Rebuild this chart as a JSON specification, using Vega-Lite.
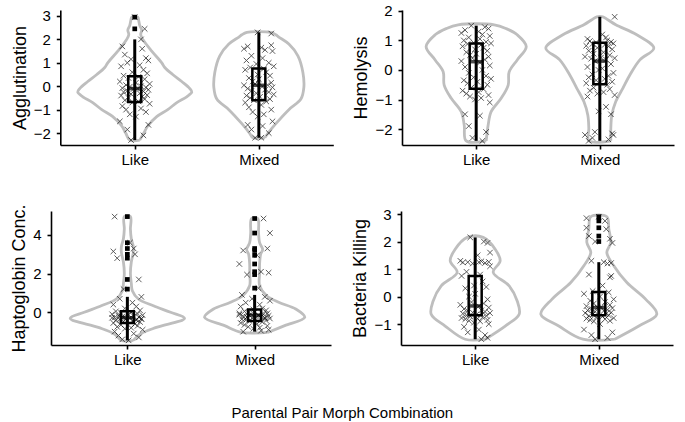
{
"$schema":"https://vega.github.io/schema/vega-lite/v6.json",
"padding":{"left":10,"top":3,"right":5,"bottom":5},
"background":"white",
"config":{"view":{"stroke":null},"font":"Liberation Sans",
"axis":{"grid":false,"labelOverlap":false,"domainColor":"black","domainWidth":1.6,"tickColor":"black","tickWidth":1.6,"tickSize":4,"labelColor":"black","labelFont":"Liberation Sans","labelFontSize":15,"titleFont":"Liberation Sans","titleFontSize":18,"titleFontWeight":"normal","titleColor":"black"},
"axisX":{"labelAngle":0,"labelPadding":3},
"axisY":{"titlePadding":4,"labelPadding":6}},
"title":{"text":"Parental Pair Morph Combination","orient":"bottom","fontSize":15,"fontWeight":"normal","font":"Liberation Sans","color":"black","offset":39,"anchor":"middle"},
"datasets":{
"box":[
{"p":"A","g":"Like","lo":-2.3,"q1":-0.67,"md":-0.1,"q3":0.43,"hi":2.0},
{"p":"A","g":"Mixed","lo":-2.2,"q1":-0.6,"md":0.04,"q3":0.76,"hi":2.3},
{"p":"B","g":"Like","lo":-2.4,"q1":-0.64,"md":0.28,"q3":0.9,"hi":1.5},
{"p":"B","g":"Mixed","lo":-2.4,"q1":-0.48,"md":0.3,"q3":0.92,"hi":1.8},
{"p":"C","g":"Like","lo":-1.45,"q1":-0.55,"md":-0.28,"q3":0.05,"hi":0.8},
{"p":"C","g":"Mixed","lo":-1.0,"q1":-0.45,"md":-0.15,"q3":0.15,"hi":0.9},
{"p":"D","g":"Like","lo":-1.55,"q1":-0.68,"md":-0.34,"q3":0.75,"hi":2.15},
{"p":"D","g":"Mixed","lo":-1.55,"q1":-0.68,"md":-0.4,"q3":0.17,"hi":1.25}],
"out":[
{"p":"A","g":"Like","v":2.45},{"p":"A","g":"Like","v":2.95},
{"p":"C","g":"Like","v":4.95},{"p":"C","g":"Like","v":3.6},{"p":"C","g":"Like","v":3.3},{"p":"C","g":"Like","v":3.0},{"p":"C","g":"Like","v":2.8},{"p":"C","g":"Like","v":1.7},{"p":"C","g":"Like","v":1.2},
{"p":"C","g":"Mixed","v":4.85},{"p":"C","g":"Mixed","v":4.1},{"p":"C","g":"Mixed","v":3.3},{"p":"C","g":"Mixed","v":3.2},{"p":"C","g":"Mixed","v":2.95},{"p":"C","g":"Mixed","v":2.5},{"p":"C","g":"Mixed","v":2.1},{"p":"C","g":"Mixed","v":1.95},{"p":"C","g":"Mixed","v":1.25},
{"p":"D","g":"Mixed","v":2.9},{"p":"D","g":"Mixed","v":2.75},{"p":"D","g":"Mixed","v":2.5},{"p":"D","g":"Mixed","v":2.2},{"p":"D","g":"Mixed","v":2.0}],
"vio":[
{"p":"A","g":"Like","v":-2.3,"w":0.04},{"p":"A","g":"Like","v":-2.0,"w":0.073},{"p":"A","g":"Like","v":-1.7,"w":0.105},{"p":"A","g":"Like","v":-1.3,"w":0.177},{"p":"A","g":"Like","v":-1.0,"w":0.266},{"p":"A","g":"Like","v":-0.7,"w":0.339},{"p":"A","g":"Like","v":-0.45,"w":0.419},{"p":"A","g":"Like","v":-0.25,"w":0.46},{"p":"A","g":"Like","v":-0.1,"w":0.444},{"p":"A","g":"Like","v":0.2,"w":0.379},{"p":"A","g":"Like","v":0.5,"w":0.306},{"p":"A","g":"Like","v":0.8,"w":0.242},{"p":"A","g":"Like","v":1.0,"w":0.218},{"p":"A","g":"Like","v":1.5,"w":0.137},{"p":"A","g":"Like","v":2.0,"w":0.065},{"p":"A","g":"Like","v":2.2,"w":0.048},{"p":"A","g":"Like","v":2.4,"w":0.056},{"p":"A","g":"Like","v":2.6,"w":0.04},{"p":"A","g":"Like","v":2.8,"w":0.032},{"p":"A","g":"Like","v":2.95,"w":0.024},
{"p":"A","g":"Like","v":2.95,"w":-0.024},{"p":"A","g":"Like","v":2.8,"w":-0.032},{"p":"A","g":"Like","v":2.6,"w":-0.04},{"p":"A","g":"Like","v":2.4,"w":-0.056},{"p":"A","g":"Like","v":2.2,"w":-0.048},{"p":"A","g":"Like","v":2.0,"w":-0.065},{"p":"A","g":"Like","v":1.5,"w":-0.137},{"p":"A","g":"Like","v":1.0,"w":-0.218},{"p":"A","g":"Like","v":0.8,"w":-0.242},{"p":"A","g":"Like","v":0.5,"w":-0.306},{"p":"A","g":"Like","v":0.2,"w":-0.379},{"p":"A","g":"Like","v":-0.1,"w":-0.444},{"p":"A","g":"Like","v":-0.25,"w":-0.46},{"p":"A","g":"Like","v":-0.45,"w":-0.419},{"p":"A","g":"Like","v":-0.7,"w":-0.339},{"p":"A","g":"Like","v":-1.0,"w":-0.266},{"p":"A","g":"Like","v":-1.3,"w":-0.177},{"p":"A","g":"Like","v":-1.7,"w":-0.105},{"p":"A","g":"Like","v":-2.0,"w":-0.073},{"p":"A","g":"Like","v":-2.3,"w":-0.04},{"p":"A","g":"Like","v":-2.3,"w":0.04},
{"p":"A","g":"Mixed","v":-2.2,"w":0.048},{"p":"A","g":"Mixed","v":-2.0,"w":0.075},{"p":"A","g":"Mixed","v":-1.6,"w":0.137},{"p":"A","g":"Mixed","v":-1.0,"w":0.242},{"p":"A","g":"Mixed","v":-0.55,"w":0.339},{"p":"A","g":"Mixed","v":-0.05,"w":0.363},{"p":"A","g":"Mixed","v":0.6,"w":0.355},{"p":"A","g":"Mixed","v":1.3,"w":0.315},{"p":"A","g":"Mixed","v":1.8,"w":0.242},{"p":"A","g":"Mixed","v":2.1,"w":0.161},{"p":"A","g":"Mixed","v":2.2,"w":0.137},{"p":"A","g":"Mixed","v":2.3,"w":0.097},
{"p":"A","g":"Mixed","v":2.3,"w":-0.097},{"p":"A","g":"Mixed","v":2.2,"w":-0.137},{"p":"A","g":"Mixed","v":2.1,"w":-0.161},{"p":"A","g":"Mixed","v":1.8,"w":-0.242},{"p":"A","g":"Mixed","v":1.3,"w":-0.315},{"p":"A","g":"Mixed","v":0.6,"w":-0.355},{"p":"A","g":"Mixed","v":-0.05,"w":-0.363},{"p":"A","g":"Mixed","v":-0.55,"w":-0.339},{"p":"A","g":"Mixed","v":-1.0,"w":-0.242},{"p":"A","g":"Mixed","v":-1.6,"w":-0.137},{"p":"A","g":"Mixed","v":-2.0,"w":-0.075},{"p":"A","g":"Mixed","v":-2.2,"w":-0.048},{"p":"A","g":"Mixed","v":-2.2,"w":0.048},
{"p":"B","g":"Like","v":-2.4,"w":0.081},{"p":"B","g":"Like","v":-1.86,"w":0.097},{"p":"B","g":"Like","v":-1.41,"w":0.121},{"p":"B","g":"Like","v":-0.96,"w":0.202},{"p":"B","g":"Like","v":-0.51,"w":0.259},{"p":"B","g":"Like","v":-0.06,"w":0.267},{"p":"B","g":"Like","v":0.34,"w":0.332},{"p":"B","g":"Like","v":0.79,"w":0.405},{"p":"B","g":"Like","v":1.19,"w":0.332},{"p":"B","g":"Like","v":1.4,"w":0.243},{"p":"B","g":"Like","v":1.53,"w":0.146},
{"p":"B","g":"Like","v":1.53,"w":-0.146},{"p":"B","g":"Like","v":1.4,"w":-0.243},{"p":"B","g":"Like","v":1.19,"w":-0.332},{"p":"B","g":"Like","v":0.79,"w":-0.405},{"p":"B","g":"Like","v":0.34,"w":-0.332},{"p":"B","g":"Like","v":-0.06,"w":-0.267},{"p":"B","g":"Like","v":-0.51,"w":-0.259},{"p":"B","g":"Like","v":-0.96,"w":-0.202},{"p":"B","g":"Like","v":-1.41,"w":-0.121},{"p":"B","g":"Like","v":-1.86,"w":-0.097},{"p":"B","g":"Like","v":-2.4,"w":-0.081},{"p":"B","g":"Like","v":-2.4,"w":0.081},
{"p":"B","g":"Mixed","v":-2.4,"w":0.089},{"p":"B","g":"Mixed","v":-1.98,"w":0.089},{"p":"B","g":"Mixed","v":-1.53,"w":0.097},{"p":"B","g":"Mixed","v":-1.07,"w":0.129},{"p":"B","g":"Mixed","v":-0.62,"w":0.186},{"p":"B","g":"Mixed","v":-0.17,"w":0.243},{"p":"B","g":"Mixed","v":0.34,"w":0.324},{"p":"B","g":"Mixed","v":0.74,"w":0.437},{"p":"B","g":"Mixed","v":1.19,"w":0.299},{"p":"B","g":"Mixed","v":1.53,"w":0.129},{"p":"B","g":"Mixed","v":1.7,"w":0.065},{"p":"B","g":"Mixed","v":1.8,"w":0.024},
{"p":"B","g":"Mixed","v":1.8,"w":-0.024},{"p":"B","g":"Mixed","v":1.7,"w":-0.065},{"p":"B","g":"Mixed","v":1.53,"w":-0.129},{"p":"B","g":"Mixed","v":1.19,"w":-0.299},{"p":"B","g":"Mixed","v":0.74,"w":-0.437},{"p":"B","g":"Mixed","v":0.34,"w":-0.324},{"p":"B","g":"Mixed","v":-0.17,"w":-0.243},{"p":"B","g":"Mixed","v":-0.62,"w":-0.186},{"p":"B","g":"Mixed","v":-1.07,"w":-0.129},{"p":"B","g":"Mixed","v":-1.53,"w":-0.097},{"p":"B","g":"Mixed","v":-1.98,"w":-0.089},{"p":"B","g":"Mixed","v":-2.4,"w":-0.089},{"p":"B","g":"Mixed","v":-2.4,"w":0.089},
{"p":"C","g":"Like","v":-1.45,"w":0.047},{"p":"C","g":"Like","v":-1.12,"w":0.102},{"p":"C","g":"Like","v":-0.78,"w":0.228},{"p":"C","g":"Like","v":-0.31,"w":0.449},{"p":"C","g":"Like","v":0.0,"w":0.339},{"p":"C","g":"Like","v":0.34,"w":0.205},{"p":"C","g":"Like","v":0.69,"w":0.087},{"p":"C","g":"Like","v":1.12,"w":0.039},{"p":"C","g":"Like","v":1.5,"w":0.031},{"p":"C","g":"Like","v":2.0,"w":0.024},{"p":"C","g":"Like","v":2.6,"w":0.031},{"p":"C","g":"Like","v":3.1,"w":0.047},{"p":"C","g":"Like","v":3.4,"w":0.047},{"p":"C","g":"Like","v":3.8,"w":0.031},{"p":"C","g":"Like","v":4.3,"w":0.024},{"p":"C","g":"Like","v":4.95,"w":0.024},
{"p":"C","g":"Like","v":4.95,"w":-0.024},{"p":"C","g":"Like","v":4.3,"w":-0.024},{"p":"C","g":"Like","v":3.8,"w":-0.031},{"p":"C","g":"Like","v":3.4,"w":-0.047},{"p":"C","g":"Like","v":3.1,"w":-0.047},{"p":"C","g":"Like","v":2.6,"w":-0.031},{"p":"C","g":"Like","v":2.0,"w":-0.024},{"p":"C","g":"Like","v":1.5,"w":-0.031},{"p":"C","g":"Like","v":1.12,"w":-0.039},{"p":"C","g":"Like","v":0.69,"w":-0.087},{"p":"C","g":"Like","v":0.34,"w":-0.205},{"p":"C","g":"Like","v":0.0,"w":-0.339},{"p":"C","g":"Like","v":-0.31,"w":-0.449},{"p":"C","g":"Like","v":-0.78,"w":-0.228},{"p":"C","g":"Like","v":-1.12,"w":-0.102},{"p":"C","g":"Like","v":-1.45,"w":-0.047},{"p":"C","g":"Like","v":-1.45,"w":0.047},
{"p":"C","g":"Mixed","v":-1.04,"w":0.102},{"p":"C","g":"Mixed","v":-0.69,"w":0.236},{"p":"C","g":"Mixed","v":-0.26,"w":0.394},{"p":"C","g":"Mixed","v":0.17,"w":0.323},{"p":"C","g":"Mixed","v":0.52,"w":0.189},{"p":"C","g":"Mixed","v":0.86,"w":0.094},{"p":"C","g":"Mixed","v":1.38,"w":0.039},{"p":"C","g":"Mixed","v":2.0,"w":0.039},{"p":"C","g":"Mixed","v":2.5,"w":0.039},{"p":"C","g":"Mixed","v":3.0,"w":0.047},{"p":"C","g":"Mixed","v":3.25,"w":0.063},{"p":"C","g":"Mixed","v":3.6,"w":0.039},{"p":"C","g":"Mixed","v":4.1,"w":0.031},{"p":"C","g":"Mixed","v":4.85,"w":0.024},
{"p":"C","g":"Mixed","v":4.85,"w":-0.024},{"p":"C","g":"Mixed","v":4.1,"w":-0.031},{"p":"C","g":"Mixed","v":3.6,"w":-0.039},{"p":"C","g":"Mixed","v":3.25,"w":-0.063},{"p":"C","g":"Mixed","v":3.0,"w":-0.047},{"p":"C","g":"Mixed","v":2.5,"w":-0.039},{"p":"C","g":"Mixed","v":2.0,"w":-0.039},{"p":"C","g":"Mixed","v":1.38,"w":-0.039},{"p":"C","g":"Mixed","v":0.86,"w":-0.094},{"p":"C","g":"Mixed","v":0.52,"w":-0.189},{"p":"C","g":"Mixed","v":0.17,"w":-0.323},{"p":"C","g":"Mixed","v":-0.26,"w":-0.394},{"p":"C","g":"Mixed","v":-0.69,"w":-0.236},{"p":"C","g":"Mixed","v":-1.04,"w":-0.102},{"p":"C","g":"Mixed","v":-1.04,"w":0.102},
{"p":"D","g":"Like","v":-1.55,"w":0.081},{"p":"D","g":"Like","v":-1.07,"w":0.243},{"p":"D","g":"Like","v":-0.64,"w":0.356},{"p":"D","g":"Like","v":-0.16,"w":0.34},{"p":"D","g":"Like","v":0.39,"w":0.275},{"p":"D","g":"Like","v":0.88,"w":0.146},{"p":"D","g":"Like","v":1.3,"w":0.202},{"p":"D","g":"Like","v":1.72,"w":0.162},{"p":"D","g":"Like","v":2.15,"w":0.065},
{"p":"D","g":"Like","v":2.15,"w":-0.065},{"p":"D","g":"Like","v":1.72,"w":-0.162},{"p":"D","g":"Like","v":1.3,"w":-0.202},{"p":"D","g":"Like","v":0.88,"w":-0.146},{"p":"D","g":"Like","v":0.39,"w":-0.275},{"p":"D","g":"Like","v":-0.16,"w":-0.34},{"p":"D","g":"Like","v":-0.64,"w":-0.356},{"p":"D","g":"Like","v":-1.07,"w":-0.243},{"p":"D","g":"Like","v":-1.55,"w":-0.081},{"p":"D","g":"Like","v":-1.55,"w":0.081},
{"p":"D","g":"Mixed","v":-1.55,"w":0.129},{"p":"D","g":"Mixed","v":-1.07,"w":0.324},{"p":"D","g":"Mixed","v":-0.64,"w":0.469},{"p":"D","g":"Mixed","v":-0.1,"w":0.38},{"p":"D","g":"Mixed","v":0.51,"w":0.227},{"p":"D","g":"Mixed","v":1.12,"w":0.121},{"p":"D","g":"Mixed","v":1.6,"w":0.065},{"p":"D","g":"Mixed","v":1.97,"w":0.097},{"p":"D","g":"Mixed","v":2.45,"w":0.081},{"p":"D","g":"Mixed","v":2.9,"w":0.065},
{"p":"D","g":"Mixed","v":2.9,"w":-0.065},{"p":"D","g":"Mixed","v":2.45,"w":-0.081},{"p":"D","g":"Mixed","v":1.97,"w":-0.097},{"p":"D","g":"Mixed","v":1.6,"w":-0.065},{"p":"D","g":"Mixed","v":1.12,"w":-0.121},{"p":"D","g":"Mixed","v":0.51,"w":-0.227},{"p":"D","g":"Mixed","v":-0.1,"w":-0.38},{"p":"D","g":"Mixed","v":-0.64,"w":-0.469},{"p":"D","g":"Mixed","v":-1.07,"w":-0.324},{"p":"D","g":"Mixed","v":-1.55,"w":-0.129},{"p":"D","g":"Mixed","v":-1.55,"w":0.129}],
"pts":[
{"p":"A","g":"Like","v":2.95,"j":0.0},{"p":"A","g":"Like","v":2.45,"j":0.08},{"p":"A","g":"Like","v":2.0,"j":0.05},{"p":"A","g":"Like","v":1.7,"j":-0.1},{"p":"A","g":"Like","v":1.6,"j":0.06},{"p":"A","g":"Like","v":1.35,"j":-0.08},{"p":"A","g":"Like","v":1.2,"j":0.09},{"p":"A","g":"Like","v":1.15,"j":-0.03},{"p":"A","g":"Like","v":1.1,"j":0.11},{"p":"A","g":"Like","v":1.0,"j":-0.06},
{"p":"A","g":"Like","v":0.9,"j":0.04},{"p":"A","g":"Like","v":0.85,"j":-0.11},{"p":"A","g":"Like","v":0.7,"j":0.07},{"p":"A","g":"Like","v":0.6,"j":-0.02},{"p":"A","g":"Like","v":0.55,"j":0.1},{"p":"A","g":"Like","v":0.45,"j":-0.09},{"p":"A","g":"Like","v":0.4,"j":0.03},{"p":"A","g":"Like","v":0.35,"j":-0.05},{"p":"A","g":"Like","v":0.3,"j":0.08},{"p":"A","g":"Like","v":0.2,"j":-0.12},
{"p":"A","g":"Like","v":0.15,"j":0.01},{"p":"A","g":"Like","v":0.1,"j":0.12},{"p":"A","g":"Like","v":0.05,"j":-0.07},{"p":"A","g":"Like","v":0.0,"j":0.05},{"p":"A","g":"Like","v":-0.02,"j":-0.04},{"p":"A","g":"Like","v":-0.05,"j":0.09},{"p":"A","g":"Like","v":-0.08,"j":-0.1},{"p":"A","g":"Like","v":-0.1,"j":0.02},{"p":"A","g":"Like","v":-0.12,"j":-0.01},{"p":"A","g":"Like","v":-0.15,"j":0.11},
{"p":"A","g":"Like","v":-0.2,"j":-0.06},{"p":"A","g":"Like","v":-0.22,"j":0.07},{"p":"A","g":"Like","v":-0.25,"j":-0.09},{"p":"A","g":"Like","v":-0.3,"j":0.04},{"p":"A","g":"Like","v":-0.33,"j":-0.03},{"p":"A","g":"Like","v":-0.38,"j":0.1},{"p":"A","g":"Like","v":-0.4,"j":-0.11},{"p":"A","g":"Like","v":-0.45,"j":0.06},{"p":"A","g":"Like","v":-0.5,"j":-0.05},{"p":"A","g":"Like","v":-0.55,"j":0.08},
{"p":"A","g":"Like","v":-0.6,"j":-0.08},{"p":"A","g":"Like","v":-0.65,"j":0.03},{"p":"A","g":"Like","v":-0.7,"j":-0.02},{"p":"A","g":"Like","v":-0.75,"j":0.12},{"p":"A","g":"Like","v":-0.85,"j":-0.1},{"p":"A","g":"Like","v":-0.95,"j":0.05},{"p":"A","g":"Like","v":-1.0,"j":-0.07},{"p":"A","g":"Like","v":-1.1,"j":0.09},{"p":"A","g":"Like","v":-1.2,"j":-0.04},{"p":"A","g":"Like","v":-1.3,"j":0.01},
{"p":"A","g":"Like","v":-1.5,"j":-0.12},{"p":"A","g":"Like","v":-1.65,"j":0.11},{"p":"A","g":"Like","v":-1.85,"j":-0.06},{"p":"A","g":"Like","v":-2.1,"j":0.07},{"p":"A","g":"Like","v":-2.3,"j":-0.03},
{"p":"A","g":"Mixed","v":2.3,"j":-0.01},{"p":"A","g":"Mixed","v":2.25,"j":0.1},{"p":"A","g":"Mixed","v":1.75,"j":0.1},{"p":"A","g":"Mixed","v":1.7,"j":-0.09},{"p":"A","g":"Mixed","v":1.65,"j":0.02},{"p":"A","g":"Mixed","v":1.6,"j":-0.12},{"p":"A","g":"Mixed","v":1.55,"j":0.05},{"p":"A","g":"Mixed","v":1.5,"j":0.11},{"p":"A","g":"Mixed","v":1.3,"j":-0.06},{"p":"A","g":"Mixed","v":1.2,"j":0.03},
{"p":"A","g":"Mixed","v":1.1,"j":-0.1},{"p":"A","g":"Mixed","v":1.0,"j":0.08},{"p":"A","g":"Mixed","v":0.95,"j":-0.02},{"p":"A","g":"Mixed","v":0.85,"j":0.12},{"p":"A","g":"Mixed","v":0.8,"j":-0.07},{"p":"A","g":"Mixed","v":0.75,"j":0.04},{"p":"A","g":"Mixed","v":0.7,"j":-0.11},{"p":"A","g":"Mixed","v":0.6,"j":0.06},{"p":"A","g":"Mixed","v":0.5,"j":-0.01},{"p":"A","g":"Mixed","v":0.45,"j":0.09},
{"p":"A","g":"Mixed","v":0.35,"j":-0.08},{"p":"A","g":"Mixed","v":0.3,"j":0.0},{"p":"A","g":"Mixed","v":0.2,"j":-0.05},{"p":"A","g":"Mixed","v":0.15,"j":0.1},{"p":"A","g":"Mixed","v":0.1,"j":-0.03},{"p":"A","g":"Mixed","v":0.05,"j":0.07},{"p":"A","g":"Mixed","v":0.04,"j":-0.12},{"p":"A","g":"Mixed","v":0.0,"j":0.03},{"p":"A","g":"Mixed","v":-0.05,"j":0.11},{"p":"A","g":"Mixed","v":-0.1,"j":-0.09},
{"p":"A","g":"Mixed","v":-0.15,"j":0.05},{"p":"A","g":"Mixed","v":-0.2,"j":-0.06},{"p":"A","g":"Mixed","v":-0.25,"j":0.08},{"p":"A","g":"Mixed","v":-0.3,"j":-0.02},{"p":"A","g":"Mixed","v":-0.35,"j":0.12},{"p":"A","g":"Mixed","v":-0.4,"j":-0.1},{"p":"A","g":"Mixed","v":-0.45,"j":0.01},{"p":"A","g":"Mixed","v":-0.5,"j":-0.07},{"p":"A","g":"Mixed","v":-0.55,"j":0.09},{"p":"A","g":"Mixed","v":-0.6,"j":-0.04},
{"p":"A","g":"Mixed","v":-0.65,"j":0.06},{"p":"A","g":"Mixed","v":-0.7,"j":-0.11},{"p":"A","g":"Mixed","v":-0.8,"j":0.02},{"p":"A","g":"Mixed","v":-0.9,"j":-0.08},{"p":"A","g":"Mixed","v":-1.0,"j":0.1},{"p":"A","g":"Mixed","v":-1.1,"j":-0.05},{"p":"A","g":"Mixed","v":-1.2,"j":0.04},{"p":"A","g":"Mixed","v":-1.3,"j":-0.01},{"p":"A","g":"Mixed","v":-1.5,"j":0.11},{"p":"A","g":"Mixed","v":-1.65,"j":-0.09},
{"p":"A","g":"Mixed","v":-1.7,"j":0.03},{"p":"A","g":"Mixed","v":-1.85,"j":-0.06},{"p":"A","g":"Mixed","v":-2.0,"j":0.08},{"p":"A","g":"Mixed","v":-2.2,"j":-0.03},{"p":"A","g":"Mixed","v":-2.2,"j":0.02},
{"p":"B","g":"Like","v":1.5,"j":-0.04},{"p":"B","g":"Like","v":1.45,"j":0.07},{"p":"B","g":"Like","v":1.4,"j":0.1},{"p":"B","g":"Like","v":1.35,"j":-0.09},{"p":"B","g":"Like","v":1.3,"j":0.02},{"p":"B","g":"Like","v":1.25,"j":-0.12},{"p":"B","g":"Like","v":1.2,"j":0.05},{"p":"B","g":"Like","v":1.15,"j":0.11},{"p":"B","g":"Like","v":1.1,"j":-0.06},{"p":"B","g":"Like","v":1.05,"j":0.03},
{"p":"B","g":"Like","v":1.0,"j":-0.1},{"p":"B","g":"Like","v":0.95,"j":0.08},{"p":"B","g":"Like","v":0.92,"j":-0.02},{"p":"B","g":"Like","v":0.9,"j":0.12},{"p":"B","g":"Like","v":0.88,"j":-0.07},{"p":"B","g":"Like","v":0.85,"j":0.04},{"p":"B","g":"Like","v":0.8,"j":-0.11},{"p":"B","g":"Like","v":0.75,"j":0.06},{"p":"B","g":"Like","v":0.7,"j":-0.01},{"p":"B","g":"Like","v":0.65,"j":0.09},
{"p":"B","g":"Like","v":0.6,"j":-0.08},{"p":"B","g":"Like","v":0.55,"j":0.0},{"p":"B","g":"Like","v":0.5,"j":-0.05},{"p":"B","g":"Like","v":0.45,"j":0.1},{"p":"B","g":"Like","v":0.4,"j":-0.03},{"p":"B","g":"Like","v":0.35,"j":0.07},{"p":"B","g":"Like","v":0.3,"j":-0.12},{"p":"B","g":"Like","v":0.25,"j":0.03},{"p":"B","g":"Like","v":0.15,"j":0.11},{"p":"B","g":"Like","v":0.1,"j":-0.09},
{"p":"B","g":"Like","v":0.0,"j":0.05},{"p":"B","g":"Like","v":-0.1,"j":-0.06},{"p":"B","g":"Like","v":-0.2,"j":0.08},{"p":"B","g":"Like","v":-0.25,"j":-0.02},{"p":"B","g":"Like","v":-0.3,"j":0.12},{"p":"B","g":"Like","v":-0.35,"j":-0.1},{"p":"B","g":"Like","v":-0.4,"j":0.01},{"p":"B","g":"Like","v":-0.45,"j":-0.07},{"p":"B","g":"Like","v":-0.5,"j":0.09},{"p":"B","g":"Like","v":-0.6,"j":-0.04},
{"p":"B","g":"Like","v":-0.65,"j":0.06},{"p":"B","g":"Like","v":-0.7,"j":-0.11},{"p":"B","g":"Like","v":-0.75,"j":0.02},{"p":"B","g":"Like","v":-0.8,"j":-0.08},{"p":"B","g":"Like","v":-0.85,"j":0.1},{"p":"B","g":"Like","v":-0.9,"j":-0.05},{"p":"B","g":"Like","v":-0.95,"j":0.04},{"p":"B","g":"Like","v":-1.0,"j":-0.01},{"p":"B","g":"Like","v":-1.1,"j":0.11},{"p":"B","g":"Like","v":-1.5,"j":-0.09},
{"p":"B","g":"Like","v":-1.55,"j":0.03},{"p":"B","g":"Like","v":-1.9,"j":-0.06},{"p":"B","g":"Like","v":-2.1,"j":0.08},{"p":"B","g":"Like","v":-2.3,"j":-0.03},{"p":"B","g":"Like","v":-2.4,"j":0.05},
{"p":"B","g":"Mixed","v":1.8,"j":0.12},{"p":"B","g":"Mixed","v":1.2,"j":0.02},{"p":"B","g":"Mixed","v":1.1,"j":0.05},{"p":"B","g":"Mixed","v":1.05,"j":-0.1},{"p":"B","g":"Mixed","v":1.0,"j":0.06},{"p":"B","g":"Mixed","v":0.98,"j":-0.08},{"p":"B","g":"Mixed","v":0.95,"j":0.09},{"p":"B","g":"Mixed","v":0.93,"j":-0.03},{"p":"B","g":"Mixed","v":0.9,"j":0.11},{"p":"B","g":"Mixed","v":0.88,"j":-0.06},
{"p":"B","g":"Mixed","v":0.85,"j":0.04},{"p":"B","g":"Mixed","v":0.82,"j":-0.11},{"p":"B","g":"Mixed","v":0.8,"j":0.07},{"p":"B","g":"Mixed","v":0.75,"j":-0.02},{"p":"B","g":"Mixed","v":0.7,"j":0.1},{"p":"B","g":"Mixed","v":0.65,"j":-0.09},{"p":"B","g":"Mixed","v":0.6,"j":0.03},{"p":"B","g":"Mixed","v":0.55,"j":-0.05},{"p":"B","g":"Mixed","v":0.5,"j":0.08},{"p":"B","g":"Mixed","v":0.45,"j":-0.12},
{"p":"B","g":"Mixed","v":0.42,"j":0.01},{"p":"B","g":"Mixed","v":0.4,"j":0.12},{"p":"B","g":"Mixed","v":0.38,"j":-0.07},{"p":"B","g":"Mixed","v":0.35,"j":0.05},{"p":"B","g":"Mixed","v":0.3,"j":-0.04},{"p":"B","g":"Mixed","v":0.2,"j":0.09},{"p":"B","g":"Mixed","v":0.1,"j":-0.1},{"p":"B","g":"Mixed","v":0.05,"j":0.02},{"p":"B","g":"Mixed","v":0.0,"j":-0.01},{"p":"B","g":"Mixed","v":-0.1,"j":0.11},
{"p":"B","g":"Mixed","v":-0.15,"j":-0.06},{"p":"B","g":"Mixed","v":-0.2,"j":0.07},{"p":"B","g":"Mixed","v":-0.25,"j":-0.09},{"p":"B","g":"Mixed","v":-0.3,"j":0.04},{"p":"B","g":"Mixed","v":-0.35,"j":-0.03},{"p":"B","g":"Mixed","v":-0.4,"j":0.1},{"p":"B","g":"Mixed","v":-0.45,"j":-0.11},{"p":"B","g":"Mixed","v":-0.5,"j":0.06},{"p":"B","g":"Mixed","v":-0.6,"j":-0.05},{"p":"B","g":"Mixed","v":-0.65,"j":0.08},
{"p":"B","g":"Mixed","v":-0.7,"j":-0.08},{"p":"B","g":"Mixed","v":-0.75,"j":0.03},{"p":"B","g":"Mixed","v":-0.8,"j":-0.02},{"p":"B","g":"Mixed","v":-0.85,"j":0.12},{"p":"B","g":"Mixed","v":-0.9,"j":-0.1},{"p":"B","g":"Mixed","v":-1.25,"j":0.05},{"p":"B","g":"Mixed","v":-1.4,"j":-0.01},{"p":"B","g":"Mixed","v":-1.5,"j":0.09},{"p":"B","g":"Mixed","v":-2.1,"j":-0.04},{"p":"B","g":"Mixed","v":-2.15,"j":0.1},
{"p":"B","g":"Mixed","v":-2.2,"j":-0.12},{"p":"B","g":"Mixed","v":-2.2,"j":0.11},{"p":"B","g":"Mixed","v":-2.3,"j":-0.06},{"p":"B","g":"Mixed","v":-2.35,"j":0.07},{"p":"B","g":"Mixed","v":-2.4,"j":-0.09},
{"p":"C","g":"Like","v":4.95,"j":-0.1},{"p":"C","g":"Like","v":3.6,"j":0.02},{"p":"C","g":"Like","v":3.3,"j":0.05},{"p":"C","g":"Like","v":3.15,"j":-0.11},{"p":"C","g":"Like","v":3.0,"j":0.06},{"p":"C","g":"Like","v":2.8,"j":-0.08},{"p":"C","g":"Like","v":1.7,"j":0.09},{"p":"C","g":"Like","v":1.2,"j":-0.03},{"p":"C","g":"Like","v":0.8,"j":0.11},{"p":"C","g":"Like","v":0.7,"j":-0.06},
{"p":"C","g":"Like","v":0.5,"j":0.04},{"p":"C","g":"Like","v":0.4,"j":-0.11},{"p":"C","g":"Like","v":0.3,"j":0.07},{"p":"C","g":"Like","v":0.2,"j":-0.02},{"p":"C","g":"Like","v":0.1,"j":0.1},{"p":"C","g":"Like","v":0.05,"j":-0.09},{"p":"C","g":"Like","v":0.0,"j":0.03},{"p":"C","g":"Like","v":-0.05,"j":-0.05},{"p":"C","g":"Like","v":-0.08,"j":0.08},{"p":"C","g":"Like","v":-0.1,"j":-0.12},
{"p":"C","g":"Like","v":-0.12,"j":0.01},{"p":"C","g":"Like","v":-0.15,"j":0.12},{"p":"C","g":"Like","v":-0.18,"j":-0.07},{"p":"C","g":"Like","v":-0.2,"j":0.05},{"p":"C","g":"Like","v":-0.22,"j":-0.04},{"p":"C","g":"Like","v":-0.25,"j":0.09},{"p":"C","g":"Like","v":-0.27,"j":-0.1},{"p":"C","g":"Like","v":-0.3,"j":0.02},{"p":"C","g":"Like","v":-0.32,"j":-0.01},{"p":"C","g":"Like","v":-0.35,"j":0.11},
{"p":"C","g":"Like","v":-0.37,"j":-0.06},{"p":"C","g":"Like","v":-0.4,"j":0.07},{"p":"C","g":"Like","v":-0.42,"j":-0.09},{"p":"C","g":"Like","v":-0.45,"j":0.04},{"p":"C","g":"Like","v":-0.48,"j":-0.03},{"p":"C","g":"Like","v":-0.5,"j":0.1},{"p":"C","g":"Like","v":-0.55,"j":-0.11},{"p":"C","g":"Like","v":-0.6,"j":0.06},{"p":"C","g":"Like","v":-0.65,"j":-0.05},{"p":"C","g":"Like","v":-0.7,"j":0.08},
{"p":"C","g":"Like","v":-0.75,"j":-0.08},{"p":"C","g":"Like","v":-0.8,"j":0.03},{"p":"C","g":"Like","v":-0.85,"j":-0.02},{"p":"C","g":"Like","v":-0.9,"j":0.12},{"p":"C","g":"Like","v":-1.0,"j":-0.1},{"p":"C","g":"Like","v":-1.1,"j":0.05},{"p":"C","g":"Like","v":-1.2,"j":-0.07},{"p":"C","g":"Like","v":-1.3,"j":0.09},{"p":"C","g":"Like","v":-1.4,"j":-0.04},{"p":"C","g":"Like","v":-1.45,"j":0.01},
{"p":"C","g":"Like","v":-0.28,"j":-0.12},{"p":"C","g":"Like","v":-0.33,"j":0.11},{"p":"C","g":"Like","v":-0.2,"j":-0.06},{"p":"C","g":"Like","v":-0.38,"j":0.07},{"p":"C","g":"Like","v":-0.25,"j":-0.03},
{"p":"C","g":"Mixed","v":4.85,"j":0.07},{"p":"C","g":"Mixed","v":4.1,"j":0.12},{"p":"C","g":"Mixed","v":3.3,"j":0.1},{"p":"C","g":"Mixed","v":3.2,"j":-0.09},{"p":"C","g":"Mixed","v":2.95,"j":0.02},{"p":"C","g":"Mixed","v":2.5,"j":-0.12},{"p":"C","g":"Mixed","v":2.1,"j":0.05},{"p":"C","g":"Mixed","v":2.05,"j":0.11},{"p":"C","g":"Mixed","v":1.95,"j":-0.06},{"p":"C","g":"Mixed","v":1.25,"j":0.03},
{"p":"C","g":"Mixed","v":0.9,"j":-0.1},{"p":"C","g":"Mixed","v":0.8,"j":0.08},{"p":"C","g":"Mixed","v":0.7,"j":-0.02},{"p":"C","g":"Mixed","v":0.6,"j":0.12},{"p":"C","g":"Mixed","v":0.5,"j":-0.07},{"p":"C","g":"Mixed","v":0.4,"j":0.04},{"p":"C","g":"Mixed","v":0.3,"j":-0.11},{"p":"C","g":"Mixed","v":0.2,"j":0.06},{"p":"C","g":"Mixed","v":0.15,"j":-0.01},{"p":"C","g":"Mixed","v":0.1,"j":0.09},
{"p":"C","g":"Mixed","v":0.05,"j":-0.08},{"p":"C","g":"Mixed","v":0.0,"j":0.0},{"p":"C","g":"Mixed","v":-0.02,"j":-0.05},{"p":"C","g":"Mixed","v":-0.05,"j":0.1},{"p":"C","g":"Mixed","v":-0.08,"j":-0.03},{"p":"C","g":"Mixed","v":-0.1,"j":0.07},{"p":"C","g":"Mixed","v":-0.12,"j":-0.12},{"p":"C","g":"Mixed","v":-0.15,"j":0.03},{"p":"C","g":"Mixed","v":-0.18,"j":0.11},{"p":"C","g":"Mixed","v":-0.2,"j":-0.09},
{"p":"C","g":"Mixed","v":-0.22,"j":0.05},{"p":"C","g":"Mixed","v":-0.25,"j":-0.06},{"p":"C","g":"Mixed","v":-0.28,"j":0.08},{"p":"C","g":"Mixed","v":-0.3,"j":-0.02},{"p":"C","g":"Mixed","v":-0.32,"j":0.12},{"p":"C","g":"Mixed","v":-0.35,"j":-0.1},{"p":"C","g":"Mixed","v":-0.38,"j":0.01},{"p":"C","g":"Mixed","v":-0.4,"j":-0.07},{"p":"C","g":"Mixed","v":-0.42,"j":0.09},{"p":"C","g":"Mixed","v":-0.45,"j":-0.04},
{"p":"C","g":"Mixed","v":-0.5,"j":0.06},{"p":"C","g":"Mixed","v":-0.55,"j":-0.11},{"p":"C","g":"Mixed","v":-0.6,"j":0.02},{"p":"C","g":"Mixed","v":-0.65,"j":-0.08},{"p":"C","g":"Mixed","v":-0.7,"j":0.1},{"p":"C","g":"Mixed","v":-0.75,"j":-0.05},{"p":"C","g":"Mixed","v":-0.8,"j":0.04},{"p":"C","g":"Mixed","v":-0.85,"j":-0.01},{"p":"C","g":"Mixed","v":-0.9,"j":0.11},{"p":"C","g":"Mixed","v":-1.0,"j":-0.09},
{"p":"C","g":"Mixed","v":-0.15,"j":0.03},{"p":"C","g":"Mixed","v":-0.25,"j":-0.06},{"p":"C","g":"Mixed","v":-0.3,"j":0.08},{"p":"C","g":"Mixed","v":-0.05,"j":-0.12},{"p":"C","g":"Mixed","v":-0.95,"j":0.05},
{"p":"D","g":"Like","v":2.15,"j":-0.04},{"p":"D","g":"Like","v":2.0,"j":0.07},{"p":"D","g":"Like","v":1.95,"j":0.1},{"p":"D","g":"Like","v":1.6,"j":0.12},{"p":"D","g":"Like","v":1.5,"j":0.02},{"p":"D","g":"Like","v":1.3,"j":-0.12},{"p":"D","g":"Like","v":1.28,"j":0.05},{"p":"D","g":"Like","v":1.26,"j":0.11},{"p":"D","g":"Like","v":1.25,"j":-0.06},{"p":"D","g":"Like","v":1.25,"j":0.03},
{"p":"D","g":"Like","v":1.24,"j":-0.1},{"p":"D","g":"Like","v":1.22,"j":0.08},{"p":"D","g":"Like","v":1.2,"j":-0.02},{"p":"D","g":"Like","v":1.1,"j":0.12},{"p":"D","g":"Like","v":0.9,"j":-0.07},{"p":"D","g":"Like","v":0.8,"j":0.04},{"p":"D","g":"Like","v":0.75,"j":-0.11},{"p":"D","g":"Like","v":0.55,"j":0.06},{"p":"D","g":"Like","v":0.4,"j":-0.01},{"p":"D","g":"Like","v":0.35,"j":0.09},
{"p":"D","g":"Like","v":0.3,"j":-0.08},{"p":"D","g":"Like","v":0.1,"j":0.0},{"p":"D","g":"Like","v":0.0,"j":-0.05},{"p":"D","g":"Like","v":-0.1,"j":0.1},{"p":"D","g":"Like","v":-0.2,"j":-0.03},{"p":"D","g":"Like","v":-0.25,"j":0.07},{"p":"D","g":"Like","v":-0.3,"j":-0.12},{"p":"D","g":"Like","v":-0.35,"j":0.03},{"p":"D","g":"Like","v":-0.4,"j":0.11},{"p":"D","g":"Like","v":-0.45,"j":-0.09},
{"p":"D","g":"Like","v":-0.5,"j":0.05},{"p":"D","g":"Like","v":-0.52,"j":-0.06},{"p":"D","g":"Like","v":-0.55,"j":0.08},{"p":"D","g":"Like","v":-0.58,"j":-0.02},{"p":"D","g":"Like","v":-0.6,"j":0.12},{"p":"D","g":"Like","v":-0.62,"j":-0.1},{"p":"D","g":"Like","v":-0.65,"j":0.01},{"p":"D","g":"Like","v":-0.68,"j":-0.07},{"p":"D","g":"Like","v":-0.7,"j":0.09},{"p":"D","g":"Like","v":-0.72,"j":-0.04},
{"p":"D","g":"Like","v":-0.75,"j":0.06},{"p":"D","g":"Like","v":-0.78,"j":-0.11},{"p":"D","g":"Like","v":-0.8,"j":0.02},{"p":"D","g":"Like","v":-0.82,"j":-0.08},{"p":"D","g":"Like","v":-0.85,"j":0.1},{"p":"D","g":"Like","v":-0.88,"j":-0.05},{"p":"D","g":"Like","v":-0.9,"j":0.04},{"p":"D","g":"Like","v":-0.95,"j":-0.01},{"p":"D","g":"Like","v":-1.0,"j":0.11},{"p":"D","g":"Like","v":-1.1,"j":-0.09},
{"p":"D","g":"Like","v":-1.2,"j":0.03},{"p":"D","g":"Like","v":-1.3,"j":-0.06},{"p":"D","g":"Like","v":-1.4,"j":0.08},{"p":"D","g":"Like","v":-1.5,"j":0.1},{"p":"D","g":"Like","v":-1.55,"j":0.05},
{"p":"D","g":"Mixed","v":2.9,"j":0.0},{"p":"D","g":"Mixed","v":2.85,"j":-0.1},{"p":"D","g":"Mixed","v":2.75,"j":0.05},{"p":"D","g":"Mixed","v":2.5,"j":-0.1},{"p":"D","g":"Mixed","v":2.45,"j":0.06},{"p":"D","g":"Mixed","v":2.2,"j":-0.08},{"p":"D","g":"Mixed","v":2.1,"j":0.09},{"p":"D","g":"Mixed","v":2.0,"j":-0.03},{"p":"D","g":"Mixed","v":1.95,"j":0.11},{"p":"D","g":"Mixed","v":1.3,"j":-0.06},
{"p":"D","g":"Mixed","v":1.25,"j":0.04},{"p":"D","g":"Mixed","v":1.22,"j":0.1},{"p":"D","g":"Mixed","v":1.2,"j":0.07},{"p":"D","g":"Mixed","v":0.8,"j":-0.08},{"p":"D","g":"Mixed","v":0.75,"j":0.1},{"p":"D","g":"Mixed","v":0.7,"j":0.09},{"p":"D","g":"Mixed","v":0.4,"j":0.03},{"p":"D","g":"Mixed","v":0.2,"j":-0.05},{"p":"D","g":"Mixed","v":0.15,"j":0.08},{"p":"D","g":"Mixed","v":0.1,"j":-0.12},
{"p":"D","g":"Mixed","v":0.0,"j":0.01},{"p":"D","g":"Mixed","v":-0.1,"j":0.12},{"p":"D","g":"Mixed","v":-0.15,"j":-0.07},{"p":"D","g":"Mixed","v":-0.2,"j":0.05},{"p":"D","g":"Mixed","v":-0.25,"j":-0.04},{"p":"D","g":"Mixed","v":-0.3,"j":0.09},{"p":"D","g":"Mixed","v":-0.35,"j":-0.1},{"p":"D","g":"Mixed","v":-0.38,"j":0.02},{"p":"D","g":"Mixed","v":-0.4,"j":-0.01},{"p":"D","g":"Mixed","v":-0.42,"j":0.11},
{"p":"D","g":"Mixed","v":-0.45,"j":-0.06},{"p":"D","g":"Mixed","v":-0.48,"j":0.07},{"p":"D","g":"Mixed","v":-0.5,"j":-0.09},{"p":"D","g":"Mixed","v":-0.52,"j":0.04},{"p":"D","g":"Mixed","v":-0.55,"j":-0.03},{"p":"D","g":"Mixed","v":-0.58,"j":0.1},{"p":"D","g":"Mixed","v":-0.6,"j":-0.11},{"p":"D","g":"Mixed","v":-0.62,"j":0.06},{"p":"D","g":"Mixed","v":-0.65,"j":-0.05},{"p":"D","g":"Mixed","v":-0.68,"j":0.08},
{"p":"D","g":"Mixed","v":-0.7,"j":-0.08},{"p":"D","g":"Mixed","v":-0.72,"j":0.03},{"p":"D","g":"Mixed","v":-0.75,"j":-0.02},{"p":"D","g":"Mixed","v":-0.78,"j":0.12},{"p":"D","g":"Mixed","v":-0.8,"j":-0.1},{"p":"D","g":"Mixed","v":-0.82,"j":0.05},{"p":"D","g":"Mixed","v":-0.85,"j":-0.07},{"p":"D","g":"Mixed","v":-0.88,"j":0.09},{"p":"D","g":"Mixed","v":-0.9,"j":-0.04},{"p":"D","g":"Mixed","v":-1.0,"j":0.01},
{"p":"D","g":"Mixed","v":-1.2,"j":-0.12},{"p":"D","g":"Mixed","v":-1.3,"j":0.11},{"p":"D","g":"Mixed","v":-1.4,"j":-0.06},{"p":"D","g":"Mixed","v":-1.5,"j":0.07},{"p":"D","g":"Mixed","v":-1.55,"j":-0.03}]
},
"spacing":36,
"resolve":{"scale":{"x":"independent","y":"independent","xOffset":"independent"}},
"vconcat":[
{"hconcat":[
{"width":282.3,"height":135,"layer":[
{"data":{"name":"vio"},"transform":[{"filter":"datum.p=='A'"}],"mark":{"type":"line","color":"#bebebe","strokeWidth":2.8,"interpolate":"catmull-rom"},"encoding":{"x":{"field":"g","type":"nominal","title":null,"scale":{"type":"point","domain":["Like","Mixed"],"padding":0.6,"range":[9.3,282.3]}},"xOffset":{"field":"w","type":"quantitative","scale":{"domain":[-1,1],"range":[-124,124],"nice":false,"zero":false}},"y":{"field":"v","type":"quantitative","title":"Agglutination","scale":{"domain":[-2.51,3.255],"nice":false,"zero":false},"axis":{"values":[-2,-1,0,1,2,3],"labelOverlap":false,"offset":-9.3}},"detail":{"field":"g"},"order":{"value":null}}},
{"data":{"name":"box"},"transform":[{"filter":"datum.p=='A'"}],"mark":{"type":"rule","color":"black","strokeWidth":3},"encoding":{"x":{"field":"g","type":"nominal","title":null},"y":{"field":"lo","type":"quantitative","title":"Agglutination","axis":{"values":[-2,-1,0,1,2,3],"labelOverlap":false,"offset":-9.3}},"y2":{"field":"hi"}}},
{"data":{"name":"box"},"transform":[{"filter":"datum.p=='A'"}],"mark":{"type":"bar","filled":false,"color":"black","strokeWidth":2.5,"width":13},"encoding":{"x":{"field":"g","type":"nominal","title":null},"y":{"field":"q1","type":"quantitative","title":"Agglutination","axis":{"values":[-2,-1,0,1,2,3],"labelOverlap":false,"offset":-9.3}},"y2":{"field":"q3"}}},
{"data":{"name":"box"},"transform":[{"filter":"datum.p=='A'"}],"mark":{"type":"tick","color":"black","thickness":3.5,"size":13},"encoding":{"x":{"field":"g","type":"nominal","title":null},"y":{"field":"md","type":"quantitative","title":"Agglutination","axis":{"values":[-2,-1,0,1,2,3],"labelOverlap":false,"offset":-9.3}}}},
{"data":{"name":"out"},"transform":[{"filter":"datum.p=='A'"}],"mark":{"type":"square","color":"black","size":22,"opacity":1},"encoding":{"x":{"field":"g","type":"nominal","title":null},"y":{"field":"v","type":"quantitative","title":"Agglutination","axis":{"values":[-2,-1,0,1,2,3],"labelOverlap":false,"offset":-9.3}}}},
{"data":{"name":"pts"},"transform":[{"filter":"datum.p=='A'"}],"mark":{"type":"point","shape":"M-1,-1L1,1M1,-1L-1,1","filled":false,"color":"black","strokeWidth":0.9,"opacity":0.7,"size":30},"encoding":{"x":{"field":"g","type":"nominal","title":null},"xOffset":{"field":"j","type":"quantitative","scale":{"domain":[-1,1],"range":[-124,124],"nice":false,"zero":false}},"y":{"field":"v","type":"quantitative","title":"Agglutination","axis":{"values":[-2,-1,0,1,2,3],"labelOverlap":false,"offset":-9.3}}}}
]},
{"width":272,"height":135,"layer":[
{"data":{"name":"vio"},"transform":[{"filter":"datum.p=='B'"}],"mark":{"type":"line","color":"#bebebe","strokeWidth":2.8,"interpolate":"catmull-rom"},"encoding":{"x":{"field":"g","type":"nominal","title":null,"scale":{"type":"point","domain":["Like","Mixed"],"padding":0.6}},"xOffset":{"field":"w","type":"quantitative","scale":{"domain":[-1,1],"range":[-123.6,123.6],"nice":false,"zero":false}},"y":{"field":"v","type":"quantitative","title":"Hemolysis","scale":{"domain":[-2.54,2.03],"nice":false,"zero":false},"axis":{"values":[-2,-1,0,1,2],"labelOverlap":false}},"detail":{"field":"g"},"order":{"value":null}}},
{"data":{"name":"box"},"transform":[{"filter":"datum.p=='B'"}],"mark":{"type":"rule","color":"black","strokeWidth":3},"encoding":{"x":{"field":"g","type":"nominal","title":null},"y":{"field":"lo","type":"quantitative","title":"Hemolysis","axis":{"values":[-2,-1,0,1,2],"labelOverlap":false}},"y2":{"field":"hi"}}},
{"data":{"name":"box"},"transform":[{"filter":"datum.p=='B'"}],"mark":{"type":"bar","filled":false,"color":"black","strokeWidth":2.5,"width":13},"encoding":{"x":{"field":"g","type":"nominal","title":null},"y":{"field":"q1","type":"quantitative","title":"Hemolysis","axis":{"values":[-2,-1,0,1,2],"labelOverlap":false}},"y2":{"field":"q3"}}},
{"data":{"name":"box"},"transform":[{"filter":"datum.p=='B'"}],"mark":{"type":"tick","color":"black","thickness":3.5,"size":13},"encoding":{"x":{"field":"g","type":"nominal","title":null},"y":{"field":"md","type":"quantitative","title":"Hemolysis","axis":{"values":[-2,-1,0,1,2],"labelOverlap":false}}}},
{"data":{"name":"pts"},"transform":[{"filter":"datum.p=='B'"}],"mark":{"type":"point","shape":"M-1,-1L1,1M1,-1L-1,1","filled":false,"color":"black","strokeWidth":0.9,"opacity":0.7,"size":30},"encoding":{"x":{"field":"g","type":"nominal","title":null},"xOffset":{"field":"j","type":"quantitative","scale":{"domain":[-1,1],"range":[-123.6,123.6],"nice":false,"zero":false}},"y":{"field":"v","type":"quantitative","title":"Hemolysis","axis":{"values":[-2,-1,0,1,2],"labelOverlap":false}}}}
]}
],"spacing":68,"bounds":"flush","resolve":{"scale":{"x":"independent","y":"independent","xOffset":"independent"}}},
{"hconcat":[
{"width":280,"height":134,"layer":[
{"data":{"name":"vio"},"transform":[{"filter":"datum.p=='C'"}],"mark":{"type":"line","color":"#bebebe","strokeWidth":2.8,"interpolate":"catmull-rom"},"encoding":{"x":{"field":"g","type":"nominal","title":null,"scale":{"type":"point","domain":["Like","Mixed"],"padding":0.6}},"xOffset":{"field":"w","type":"quantitative","scale":{"domain":[-1,1],"range":[-127.3,127.3],"nice":false,"zero":false}},"y":{"field":"v","type":"quantitative","title":"Haptoglobin Conc.","scale":{"domain":[-1.69,5.24],"nice":false,"zero":false},"axis":{"values":[0,2,4],"labelOverlap":false}},"detail":{"field":"g"},"order":{"value":null}}},
{"data":{"name":"box"},"transform":[{"filter":"datum.p=='C'"}],"mark":{"type":"rule","color":"black","strokeWidth":3},"encoding":{"x":{"field":"g","type":"nominal","title":null},"y":{"field":"lo","type":"quantitative","title":"Haptoglobin Conc.","axis":{"values":[0,2,4],"labelOverlap":false}},"y2":{"field":"hi"}}},
{"data":{"name":"box"},"transform":[{"filter":"datum.p=='C'"}],"mark":{"type":"bar","filled":false,"color":"black","strokeWidth":2.5,"width":13},"encoding":{"x":{"field":"g","type":"nominal","title":null},"y":{"field":"q1","type":"quantitative","title":"Haptoglobin Conc.","axis":{"values":[0,2,4],"labelOverlap":false}},"y2":{"field":"q3"}}},
{"data":{"name":"box"},"transform":[{"filter":"datum.p=='C'"}],"mark":{"type":"tick","color":"black","thickness":3.5,"size":13},"encoding":{"x":{"field":"g","type":"nominal","title":null},"y":{"field":"md","type":"quantitative","title":"Haptoglobin Conc.","axis":{"values":[0,2,4],"labelOverlap":false}}}},
{"data":{"name":"out"},"transform":[{"filter":"datum.p=='C'"}],"mark":{"type":"square","color":"black","size":22,"opacity":1},"encoding":{"x":{"field":"g","type":"nominal","title":null},"y":{"field":"v","type":"quantitative","title":"Haptoglobin Conc.","axis":{"values":[0,2,4],"labelOverlap":false}}}},
{"data":{"name":"pts"},"transform":[{"filter":"datum.p=='C'"}],"mark":{"type":"point","shape":"M-1,-1L1,1M1,-1L-1,1","filled":false,"color":"black","strokeWidth":0.9,"opacity":0.7,"size":30},"encoding":{"x":{"field":"g","type":"nominal","title":null},"xOffset":{"field":"j","type":"quantitative","scale":{"domain":[-1,1],"range":[-127.3,127.3],"nice":false,"zero":false}},"y":{"field":"v","type":"quantitative","title":"Haptoglobin Conc.","axis":{"values":[0,2,4],"labelOverlap":false}}}}
]},
{"width":272,"height":134,"layer":[
{"data":{"name":"vio"},"transform":[{"filter":"datum.p=='D'"}],"mark":{"type":"line","color":"#bebebe","strokeWidth":2.8,"interpolate":"catmull-rom"},"encoding":{"x":{"field":"g","type":"nominal","title":null,"scale":{"type":"point","domain":["Like","Mixed"],"padding":0.6}},"xOffset":{"field":"w","type":"quantitative","scale":{"domain":[-1,1],"range":[-123.6,123.6],"nice":false,"zero":false}},"y":{"field":"v","type":"quantitative","title":"Bacteria Killing","scale":{"domain":[-1.76,3.11],"nice":false,"zero":false},"axis":{"values":[-1,0,1,2,3],"labelOverlap":false}},"detail":{"field":"g"},"order":{"value":null}}},
{"data":{"name":"box"},"transform":[{"filter":"datum.p=='D'"}],"mark":{"type":"rule","color":"black","strokeWidth":3},"encoding":{"x":{"field":"g","type":"nominal","title":null},"y":{"field":"lo","type":"quantitative","title":"Bacteria Killing","axis":{"values":[-1,0,1,2,3],"labelOverlap":false}},"y2":{"field":"hi"}}},
{"data":{"name":"box"},"transform":[{"filter":"datum.p=='D'"}],"mark":{"type":"bar","filled":false,"color":"black","strokeWidth":2.5,"width":13},"encoding":{"x":{"field":"g","type":"nominal","title":null},"y":{"field":"q1","type":"quantitative","title":"Bacteria Killing","axis":{"values":[-1,0,1,2,3],"labelOverlap":false}},"y2":{"field":"q3"}}},
{"data":{"name":"box"},"transform":[{"filter":"datum.p=='D'"}],"mark":{"type":"tick","color":"black","thickness":3.5,"size":13},"encoding":{"x":{"field":"g","type":"nominal","title":null},"y":{"field":"md","type":"quantitative","title":"Bacteria Killing","axis":{"values":[-1,0,1,2,3],"labelOverlap":false}}}},
{"data":{"name":"out"},"transform":[{"filter":"datum.p=='D'"}],"mark":{"type":"square","color":"black","size":22,"opacity":1},"encoding":{"x":{"field":"g","type":"nominal","title":null},"y":{"field":"v","type":"quantitative","title":"Bacteria Killing","axis":{"values":[-1,0,1,2,3],"labelOverlap":false}}}},
{"data":{"name":"pts"},"transform":[{"filter":"datum.p=='D'"}],"mark":{"type":"point","shape":"M-1,-1L1,1M1,-1L-1,1","filled":false,"color":"black","strokeWidth":0.9,"opacity":0.7,"size":30},"encoding":{"x":{"field":"g","type":"nominal","title":null},"xOffset":{"field":"j","type":"quantitative","scale":{"domain":[-1,1],"range":[-123.6,123.6],"nice":false,"zero":false}},"y":{"field":"v","type":"quantitative","title":"Bacteria Killing","axis":{"values":[-1,0,1,2,3],"labelOverlap":false}}}}
]}
],"spacing":70,"bounds":"flush","resolve":{"scale":{"x":"independent","y":"independent","xOffset":"independent"}}}
]
}
